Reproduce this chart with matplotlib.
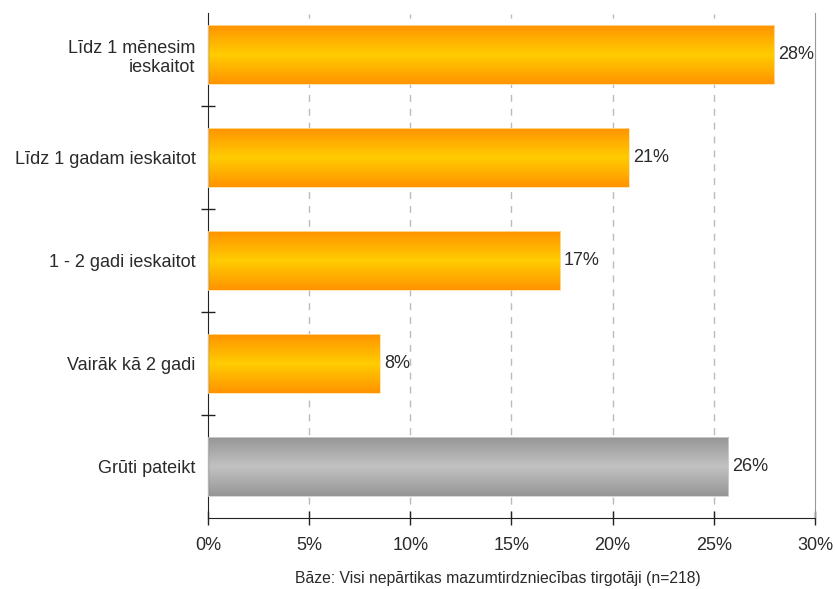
import numpy as np
import matplotlib.pyplot as plt
from matplotlib.colors import LinearSegmentedColormap

plt.rcParams['font.family'] = ['Liberation Sans', 'DejaVu Sans']

# data
categories = ['Līdz 1 mēnesim\nieskaitot', 'Līdz 1 gadam ieskaitot',
              '1 - 2 gadi ieskaitot', 'Vairāk kā 2 gadi', 'Grūti pateikt']
values = [28.0, 20.8, 17.4, 8.5, 25.7]
labels = ['28%', '21%', '17%', '8%', '26%']
is_grey = [False, False, False, False, True]

orange = LinearSegmentedColormap.from_list('orange', ['#FF9400', '#FFCC00', '#FF9400'])
grey = LinearSegmentedColormap.from_list('grey', ['#969696', '#C2C2C2', '#969696'])

fig = plt.figure(figsize=(8.35, 5.89), dpi=100)
ax = fig.add_axes([0.249, 0.1205, 0.727, 0.874])

n = len(categories)
ypos = np.arange(n)
h = 0.57
grad = np.linspace(0, 1, 100).reshape(-1, 1)

for y, v, lab, g in zip(ypos, values, labels, is_grey):
    cmap = grey if g else orange
    ax.imshow(grad, cmap=cmap, aspect='auto', interpolation='bicubic',
              extent=[0, v, y + h / 2, y - h / 2], zorder=2)
    ax.add_patch(plt.Rectangle((0, y - h / 2), v, h, fill=False,
                               edgecolor='#FFE0A0' if not g else '#D0D0D0',
                               linewidth=0.6, zorder=3))
    ax.text(v + 0.2, y, lab, va='center', ha='left', fontsize=13, color='#2a2a2a', zorder=4)

ax.set_xlim(0, 30)
ax.set_ylim(n - 0.5, -0.5)

ax.set_xticks(np.arange(0, 31, 5))
ax.set_xticklabels([f'{t}%' for t in range(0, 31, 5)], fontsize=13, color='#2a2a2a')
ax.set_yticks(ypos)
ax.set_yticklabels(categories, fontsize=13, color='#2a2a2a', linespacing=1.2)
ax.set_yticks(np.arange(0.5, n - 1, 1), minor=True)
ax.tick_params(axis='y', which='major', length=0, pad=9)
ax.tick_params(axis='y', which='minor', direction='inout', length=10, width=1, color='#222222')
ax.tick_params(axis='x', direction='inout', length=10, width=1, color='#222222', pad=9)

for x in range(5, 30, 5):
    ax.axvline(x, ymin=0, ymax=0.98, color='#BBBBBB', linestyle=(0, (5, 5)),
               linewidth=1, zorder=1)

ax.spines['top'].set_visible(False)
ax.spines['right'].set_color('#999999')
ax.spines['left'].set_color('#222222')
ax.spines['bottom'].set_color('#222222')
ax.spines['left'].set_bounds(n - 0.5, -0.41)
ax.spines['right'].set_bounds(n - 0.5, -0.41)

fig.text(0.596, 0.017, 'Bāze: Visi nepārtikas mazumtirdzniecības tirgotāji (n=218)',
         ha='center', va='center', fontsize=11.3, color='#2a2a2a')

fig.savefig('out.png', dpi=100)
